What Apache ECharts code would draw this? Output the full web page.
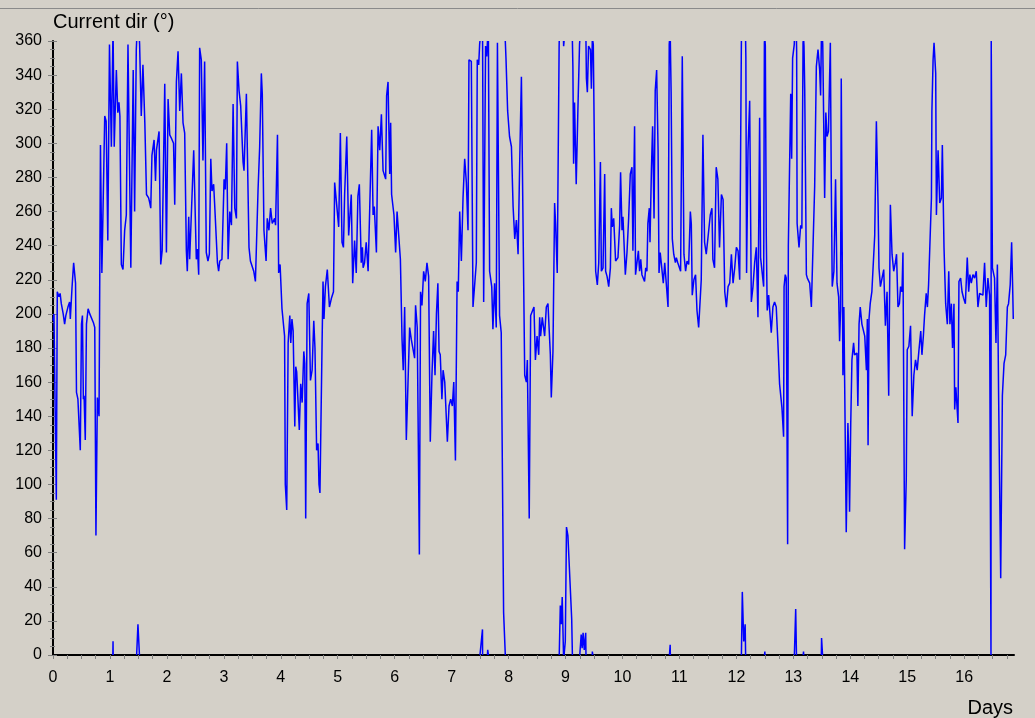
<!DOCTYPE html>
<html>
<head>
<meta charset="utf-8">
<script src="https://cdn.jsdelivr.net/npm/echarts@6/dist/echarts.min.js"></script>
<style>
html,body{margin:0;padding:0;background:#d4d0c8;}
#chart{width:1035px;height:718px;}
</style>
</head>
<body>
<div id="chart"></div>
<script>
// Readings: [hour since start, current direction in degrees]
const days0to2 = [[0.0,196],[0.4,200],[1.4,91],[1.8,213],[2.5,210],[3.0,212],[3.5,206],[4.3,200],[4.9,194],[5.4,199],[6.3,204],[7.0,207],[7.3,197],[8.0,215],[8.7,230],[9.5,218],[9.9,154],[10.5,150],[11.5,120],[12.0,194],[12.4,199],[12.8,150],[13.1,152],[13.6,126],[14.1,194],[14.8,203],[15.5,200],[16.2,201],[17.0,195],[17.6,192],[18.1,70],[18.7,151],[19.4,140],[20.0,299],[20.6,224],[21.2,225],[21.8,316],[22.4,313],[23.1,243],[23.8,358],[24.6,298],[25.3,8],[25.8,298],[26.7,343],[27.3,318],[27.8,324],[28.2,316],[28.8,229],[29.5,226],[30.2,249],[30.9,258],[31.6,358],[32.1,357],[32.8,227],[33.2,226],[33.8,343],[34.4,260],[35.1,355],[35.8,18],[36.5,358],[37.2,316],[37.9,346],[38.7,312],[39.4,270],[40.3,268],[40.8,265],[41.2,262],[41.7,293],[42.6,302],[43.2,278],[43.6,296],[44.7,307],[45.4,229],[46.0,237],[47.1,335],[47.8,236],[48.5,326],[49.2,305],[49.9,303],[50.8,300],[51.3,264],[52.0,336],[52.7,354],[53.4,319],[54.1,341],[54.8,312],[55.5,306],[56.2,237],[56.6,225],[57.2,257],[57.6,232],[58.3,232],[59.3,296],[60.0,296],[60.4,232],[60.9,238],[61.4,223],[61.8,356],[62.5,349],[63.2,290],[63.9,348],[64.6,236],[65.3,231],[65.9,235]];

const days3to5 = [[66.5,291],[67.0,272],[67.7,276],[68.1,265],[68.8,265],[69.3,230],[69.8,225],[70.3,231],[71.2,232],[71.9,233],[72.1,279],[72.6,273],[73.2,300],[73.8,232],[74.5,260],[75.2,252],[75.9,323],[76.6,262],[77.3,256],[77.7,348],[78.4,331],[79.1,322],[80.1,289],[80.5,284],[81.5,329],[81.9,330],[82.6,239],[83.2,231],[83.9,232],[84.6,225],[85.3,219],[86.4,272],[87.1,298],[87.8,341],[88.2,329],[88.9,249],[89.8,231],[90.3,256],[91.0,249],[91.7,262],[92.4,253],[93.4,256],[93.8,252],[94.6,305],[95.1,224],[95.7,229],[96.5,203],[97.1,204],[97.6,187],[97.9,100],[98.5,85],[99.1,183],[99.8,199],[100.2,183],[100.7,197],[101.2,190],[101.9,134],[102.3,169],[102.7,166],[103.3,167],[103.8,132],[104.4,159],[105.0,148],[105.7,178],[106.1,171],[106.5,80],[107.1,206],[107.8,212],[108.5,161],[109.2,167],[109.9,196],[110.4,180],[111.1,120],[111.7,124],[112.1,100],[112.5,95],[113.4,183],[113.8,219],[114.2,197],[114.8,216],[115.6,226],[116.5,204],[117.3,209],[118.2,213],[118.7,277],[119.4,277],[120.4,251],[121.1,306],[121.8,242],[122.4,239],[122.9,270],[123.8,304],[124.6,246],[125.2,247],[125.7,270],[126.3,218],[127.1,243],[127.8,224],[128.5,269],[129.1,276]];

const days5to8 = [[129.9,230],[130.4,239],[130.7,227],[131.3,230],[132.0,242],[132.8,225],[133.5,263],[134.3,308],[134.9,258],[135.4,263],[136.3,236],[137.0,310],[137.7,296],[138.4,317],[139.1,284],[139.8,283],[140.2,279],[140.6,328],[141.2,336],[141.9,282],[142.3,312],[142.7,270],[143.3,269],[143.7,258],[144.4,236],[145.0,260],[145.7,246],[146.4,232],[147.1,185],[147.6,167],[148.2,204],[148.9,126],[149.6,159],[150.3,192],[151.0,185],[151.7,185],[152.4,174],[152.8,205],[153.5,192],[154.0,191],[154.4,59],[154.9,213],[155.5,205],[156.2,225],[156.9,219],[157.6,230],[158.3,222],[159.0,125],[159.7,164],[160.4,190],[161.0,164],[161.6,200],[162.2,218],[162.7,178],[163.2,176],[163.9,150],[164.4,167],[165.1,160],[166.2,125],[166.9,146],[167.6,150],[168.3,146],[168.9,160],[169.6,114],[170.3,219],[170.8,213],[171.4,260],[172.1,231],[172.8,268],[173.5,291],[174.2,277],[174.9,249],[175.3,349],[176.3,348],[177.0,204],[177.7,204],[178.4,230],[178.8,349],[179.4,346],[179.8,358],[181.0,15],[181.5,207],[182.3,357],[182.8,351],[183.2,3],[183.6,359],[184.0,225],[184.9,216],[185.4,191],[186.1,218],[186.8,192],[187.3,359],[188.2,199],[188.9,189],[189.9,25],[190.9,350],[191.6,319],[192.4,304],[193.2,298],[193.9,263],[194.6,244],[195.3,255],[196.0,235]];

const days8to11 = [[196.7,290],[197.4,339],[198.5,201],[198.8,164],[199.5,160],[199.9,173],[200.7,80],[201.3,199],[202.1,199],[202.7,204],[203.3,173],[204.0,187],[204.7,176],[205.1,198],[205.5,187],[206.2,198],[207.2,187],[207.9,204],[208.6,206],[209.6,176],[210.0,151],[210.7,178],[211.4,265],[211.8,253],[212.5,224],[213.3,357],[213.8,29],[214.2,18],[214.6,34],[215.2,357],[215.9,8],[216.4,75],[217.0,70],[218.6,21],[219.1,345],[219.4,288],[219.8,324],[220.5,276],[221.2,319],[221.9,358],[222.6,12],[223.0,4],[223.4,13],[223.9,3],[224.5,13],[224.8,338],[225.2,330],[225.7,357],[226.5,355],[226.9,332],[227.3,2],[227.7,358],[228.7,225],[229.4,217],[230.0,230],[230.7,289],[231.1,225],[231.8,227],[232.5,282],[232.9,225],[233.5,222],[234.2,216],[234.9,227],[235.3,262],[235.7,251],[236.3,256],[237.1,231],[238.1,233],[238.8,252],[239.2,283],[239.8,249],[240.2,257],[241.2,223],[241.9,236],[242.6,256],[243.3,282],[244.0,286],[244.4,237],[245.1,310],[245.5,223],[246.3,223],[246.7,237],[247.2,225],[247.7,232],[248.2,223],[248.8,222],[249.3,219],[249.8,227],[250.3,225],[250.7,253],[251.3,262],[251.6,242],[252.2,285],[252.7,310],[253.3,256],[253.8,331],[254.4,343],[255.0,296],[255.4,224],[255.9,236],[256.7,236],[257.2,218],[257.8,230],[258.5,230]];

const days11to13 = [[259.2,204],[259.7,358],[260.1,6],[260.5,330],[261.0,244],[261.6,235],[262.3,230],[262.7,233],[263.3,230],[263.8,231],[264.5,225],[265.2,351],[265.9,235],[266.6,225],[267.2,231],[267.9,229],[268.6,260],[269.0,253],[269.4,211],[270.1,220],[270.8,223],[271.4,202],[272.1,192],[272.5,193],[273.2,220],[273.9,305],[274.6,242],[275.3,235],[275.9,243],[276.5,242],[277.0,258],[277.7,262],[278.1,232],[278.8,227],[279.5,286],[280.2,279],[280.9,239],[281.7,270],[282.4,267],[283.1,213],[283.8,204],[284.5,216],[285.2,218],[285.9,235],[286.6,218],[287.3,227],[288.0,239],[288.7,237],[289.4,220],[290.1,358],[290.5,37],[291.1,8],[291.7,18],[292.0,350],[292.3,224],[292.9,296],[293.6,325],[294.3,207],[295.0,216],[295.7,230],[296.4,239],[297.1,198],[297.8,315],[298.2,233],[298.9,232],[299.5,216],[299.8,359],[300.0,2],[300.2,357],[300.6,246],[301.0,202],[301.6,211],[302.3,212],[302.7,189],[303.4,204],[304.1,207],[304.8,204],[305.5,183],[306.2,159],[307.2,145],[307.9,128],[308.1,216],[308.6,223],[309.0,221],[309.6,65],[309.9,240],[310.5,239],[310.9,329],[311.3,291],[311.7,350],[312.4,358],[313.0,27],[313.4,354],[313.6,253],[314.4,239],[315.1,252],[315.6,250],[316.1,359],[316.3,2],[316.5,357],[316.8,332],[317.5,223],[317.9,221],[318.9,218],[319.6,204],[320.3,205],[321.0,275],[321.7,345],[322.4,355],[323.1,343],[323.5,328],[323.9,10],[324.4,358],[325.2,268],[325.7,318],[326.2,304],[326.8,307]];

const days13to17 = [[327.6,359],[328.0,277],[328.4,216],[329.1,225],[329.8,279],[330.4,218],[331.1,210],[331.5,184],[331.9,202],[332.2,338],[332.9,164],[333.3,204],[333.9,204],[334.3,72],[335.0,136],[335.3,121],[335.7,84],[336.2,136],[336.7,173],[337.4,183],[337.8,176],[338.8,177],[339.2,146],[339.7,194],[340.2,204],[340.9,194],[341.6,193],[342.1,187],[342.8,167],[343.2,197],[343.5,123],[343.9,197],[344.4,206],[345.1,213],[345.8,214],[346.3,246],[347.0,313],[347.7,265],[348.1,227],[348.7,216],[349.4,221],[350.1,226],[350.8,193],[351.5,213],[352.2,152],[352.9,264],[353.6,235],[354.3,225],[355.0,230],[355.5,235],[356.1,204],[356.7,206],[357.2,216],[357.8,213],[358.2,236],[358.9,62],[359.6,103],[360.0,179],[360.7,181],[361.4,193],[362.1,140],[362.8,164],[363.5,173],[364.2,167],[364.9,178],[365.7,190],[366.2,176],[366.8,187],[367.3,199],[368.0,212],[368.5,204],[369.0,217],[369.6,218],[370.2,268],[370.4,319],[370.9,349],[371.3,359],[372.0,341],[372.3,258],[373.0,296],[373.7,265],[374.4,268],[374.8,299],[375.5,239],[376.2,206],[376.9,194],[377.5,225],[378.0,194],[378.6,206],[379.1,180],[379.7,206],[380.0,144],[380.5,157],[381.4,136],[381.8,219],[382.5,221],[383.1,213],[383.8,209],[384.5,206],[385.3,233],[385.9,213],[386.4,223],[387.0,218],[387.7,223],[388.4,221],[389.1,225],[389.8,204],[390.5,212],[391.2,213],[391.9,211],[392.6,230],[393.3,204],[394.0,221],[394.7,211],[395.3,0],[395.4,360],[395.9,227],[396.8,221],[397.4,183],[398.0,229],[398.5,154],[399.4,45],[400.1,152],[400.8,171],[401.5,176],[402.2,204],[402.7,206],[403.4,217],[404.0,242],[404.4,218],[404.7,197]];

const yTickValues = [0,20,40,60,80,100,120,140,160,180,200,220,240,260,280,300,320,340,360];
const dayLabels = [0,1,2,3,4,5,6,7,8,9,10,11,12,13,14,15,16];
const quarterDayTicks = [];
for (let q = 0; q <= 67; q++) quarterDayTicks.push(q / 4);

const readings = [].concat(days0to2, days3to5, days5to8, days8to11, days11to13, days13to17);

// Direction wraps at 0/360: when consecutive readings differ by more than 180,
// the trace runs to the nearer boundary and continues from the opposite one.
function wrapPath(rows) {
  const out = [];
  for (let i = 0; i < rows.length; i++) {
    const t = rows[i][0] / 24, v = rows[i][1];
    if (i > 0) {
      const t0 = rows[i - 1][0] / 24, v0 = rows[i - 1][1];
      const d = v - v0;
      const edge = v0 === 0 || v0 === 360 || v === 0 || v === 360;
      if (!edge && Math.abs(d) > 180) {
        const up = d < 0;
        const target = up ? v + 360 : v - 360;
        const bound = up ? 360 : 0;
        const f = (bound - v0) / (target - v0);
        const tc = t0 + f * (t - t0);
        out.push([tc, bound]);
        out.push([tc, null]);
        out.push([tc, up ? 0 : 360]);
      }
    }
    out.push([t, v]);
  }
  return out;
}

const FONT = 'Liberation Sans, Arial, sans-serif';
const chart = echarts.init(document.getElementById('chart'), null, {renderer: 'canvas'});
chart.setOption({
  backgroundColor: '#d4d0c8',
  animation: false,
  grid: {left: 53, top: 41, width: 961, height: 614},
  graphic: [
    {type: 'line', shape: {x1: 0, y1: 8.5, x2: 1035, y2: 8.5}, style: {stroke: '#8a8a8a', lineWidth: 1}},
    {type: 'text', x: 53, y: 22, style: {text: 'Current dir (°)', font: '20px ' + FONT, fill: '#000', textAlign: 'left', textVerticalAlign: 'middle', align: 'left', verticalAlign: 'middle'}},
    {type: 'text', x: 1013, y: 708, style: {text: 'Days', font: '20px ' + FONT, fill: '#000', textAlign: 'right', textVerticalAlign: 'middle', align: 'right', verticalAlign: 'middle'}}
  ],
  xAxis: {
    type: 'value', min: 0, max: 16.875, interval: 1,
    axisLine: {show: true, onZero: false, lineStyle: {color: '#000', width: 2}},
    axisTick: {show: true, length: 4, customValues: quarterDayTicks, lineStyle: {color: '#808080'}},
    axisLabel: {show: true, customValues: dayLabels, fontFamily: FONT, fontSize: 16, color: '#000', margin: 15,
      formatter: v => (Math.abs(v - Math.round(v)) < 1e-6 ? String(Math.round(v)) : '')},
    splitLine: {show: false}
  },
  yAxis: [
    {
      type: 'value', min: 0, max: 360, interval: 20,
      axisLine: {show: true, lineStyle: {color: '#000', width: 2}},
      axisTick: {show: true, length: 5, lineStyle: {color: '#808080'}},
      minorTick: {show: true, splitNumber: 4, length: 3, lineStyle: {color: '#808080'}},
      axisLabel: {fontFamily: FONT, fontSize: 16, color: '#000', margin: 11},
      splitLine: {show: false}
    },
    {
      type: 'value', min: 0, max: 360, interval: 20, position: 'left', offset: 0,
      axisLine: {show: false},
      axisTick: {show: true, inside: true, length: 4, lineStyle: {color: '#808080'}},
      minorTick: {show: true, splitNumber: 4, length: 2, lineStyle: {color: '#808080'}},
      axisLabel: {show: false},
      splitLine: {show: false}
    }
  ],
  series: [{
    type: 'line',
    yAxisIndex: 0,
    data: wrapPath(readings),
    showSymbol: false,
    symbol: 'none',
    connectNulls: false,
    clip: true,
    lineStyle: {color: '#0000ff', width: 1.5},
    z: 1
  }]
});
</script>
</body>
</html>
